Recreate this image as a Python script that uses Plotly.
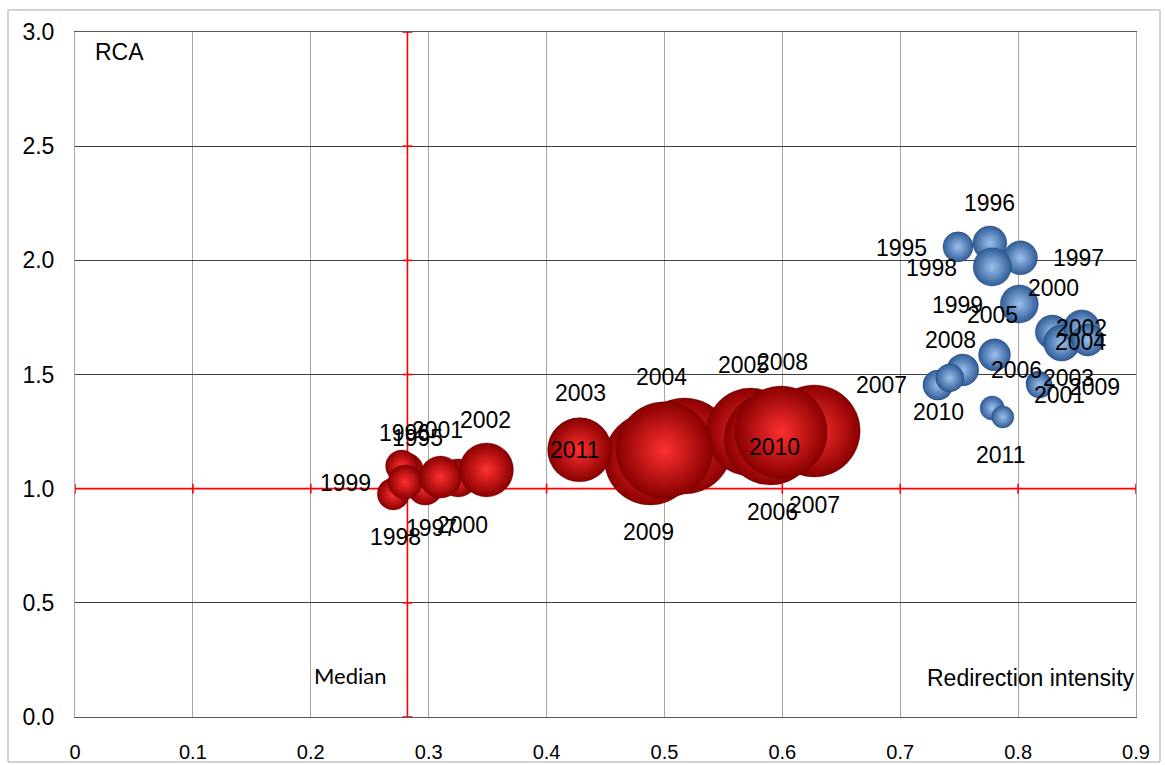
import plotly.graph_objects as go

# ---------------------------------------------------------------------------
# Data: redirection intensity (x), RCA (y) and trade size (bubble area)
# ---------------------------------------------------------------------------
years = list(range(1995, 2012))

red_x = [0.281, 0.277, 0.297, 0.270, 0.280, 0.325, 0.310, 0.349, 0.428,
         0.517, 0.573, 0.590, 0.627, 0.599, 0.488, 0.500, 0.428]
red_y = [1.082, 1.099, 1.007, 0.977, 1.029, 1.047, 1.051, 1.082, 1.174,
         1.187, 1.248, 1.218, 1.253, 1.248, 1.130, 1.170, 1.170]
red_size = [12.5, 11.1, 14.1, 11.1, 12.5, 15.7, 19.1, 31.6, 41.7,
            100.0, 84.0, 91.8, 91.8, 91.8, 91.8, 100.0, 44.4]

blue_x = [0.749, 0.776, 0.802, 0.778, 0.801, 0.829, 0.837, 0.854, 0.817,
          0.859, 0.780, 0.753, 0.732, 0.742, 0.818, 0.778, 0.787]
blue_y = [2.059, 2.076, 2.011, 1.971, 1.809, 1.686, 1.638, 1.704, 1.463,
          1.651, 1.586, 1.520, 1.454, 1.485, 1.454, 1.353, 1.314]
blue_size = [9.8, 12.5, 12.5, 15.7, 15.7, 12.5, 14.1, 14.1, 6.3,
             11.1, 11.1, 11.1, 9.8, 8.5, 7.3, 6.3, 5.3]

median_x = 0.282      # median redirection intensity
rca_threshold = 1.0   # RCA = 1 reference line

x_ticks = [0, 0.1, 0.2, 0.3, 0.4, 0.5, 0.6, 0.7, 0.8, 0.9]
x_tick_text = ["0", "0.1", "0.2", "0.3", "0.4", "0.5", "0.6", "0.7", "0.8", "0.9"]
y_ticks = [0, 0.5, 1.0, 1.5, 2.0, 2.5, 3.0]
y_tick_text = ["0.0", "0.5", "1.0", "1.5", "2.0", "2.5", "3.0"]

# Year-label placement, pixel offsets (right, down) from each bubble centre
red_label_shift = {
    1995: (11, -32), 1996: (3, -33), 1997: (6, 41), 1998: (2, 43),
    1999: (-60, 1), 2000: (4, 47), 2001: (-3, -47), 2002: (-1, -50),
    2003: (1, -56), 2004: (-23, -69), 2005: (-7, -67), 2006: (2, 73),
    2007: (0, 74), 2008: (1, -70), 2009: (-2, 73), 2010: (110, -3),
    2011: (-5, 0),
}
blue_label_shift = {
    1995: (-56, 1), 1996: (0, -40), 1997: (58, 0), 1998: (-61, 1),
    1999: (-62, 1), 2000: (1, -44), 2001: (-2, 52), 2002: (0, 0),
    2003: (30, -5), 2004: (-7, 2), 2005: (-2, -40), 2006: (54, 0),
    2007: (-56, 0), 2008: (1, -38), 2009: (55, 2), 2010: (-54, 4),
    2011: (-2, 38),
}

# ---------------------------------------------------------------------------
W, H = 1165, 765
ML, MR, MT, MB = 75, 29, 32, 48
PW, PH = W - ML - MR, H - MT - MB
MAX_DIAMETER = 96
SIZEREF = 2.0 * max(red_size + blue_size) / MAX_DIAMETER ** 2

FONT = "Liberation Sans, Arial, sans-serif"

fig = go.Figure()


def bubbles(xs, ys, sizes, edge, centre, line):
    return go.Scatter(
        x=xs, y=ys, mode="markers", hoverinfo="skip", showlegend=False,
        marker=dict(
            size=sizes, sizemode="area", sizeref=SIZEREF,
            color=edge, opacity=1,
            gradient=dict(type="radial", color=centre),
            line=dict(color=line, width=0.6),
        ),
    )


fig.add_trace(bubbles(red_x, red_y, red_size, "#8a0000", "#ff3030", "rgba(70,0,0,0.6)"))
fig.add_trace(bubbles(blue_x, blue_y, blue_size, "#2f5d98", "#9cc0ec", "rgba(20,40,80,0.6)"))

annotations = []
for xs, ys, shifts in ((red_x, red_y, red_label_shift), (blue_x, blue_y, blue_label_shift)):
    for yr, xv, yv in zip(years, xs, ys):
        dx, dy = shifts[yr]
        annotations.append(dict(
            x=xv, y=yv, xref="x", yref="y", text=str(yr), showarrow=False,
            xshift=dx, yshift=-dy, xanchor="center", yanchor="middle",
            font=dict(family=FONT, size=23, color="#000000"),
        ))


def px_x(p):
    return (p - ML) / PW


def px_y(p):
    return (H - MB - p) / PH


annotations += [
    dict(x=px_x(93), y=px_y(52), xref="paper", yref="paper", text="RCA",
         showarrow=False, xanchor="left", yanchor="middle",
         font=dict(family=FONT, size=23, color="#000000")),
    dict(x=px_x(312), y=px_y(675), xref="paper", yref="paper", text="Median",
         showarrow=False, xanchor="left", yanchor="middle",
         font=dict(family="Lato, Carlito, sans-serif", size=22, color="#000000")),
    dict(x=px_x(1031), y=px_y(678), xref="paper", yref="paper",
         text="Redirection intensity", showarrow=False, xanchor="center",
         yanchor="middle", font=dict(family=FONT, size=23, color="#000000")),
]

RED_LINE = dict(color="#ff0000", width=1.6)
shapes = [
    # outer chart frame
    dict(type="rect", xref="paper", yref="paper",
         x0=px_x(8), x1=px_x(1160), y0=px_y(762), y1=px_y(10),
         line=dict(color="#a6a6a6", width=1), layer="below"),
    # RCA = 1 line
    dict(type="line", xref="x", yref="y", x0=x_ticks[0], x1=x_ticks[-1],
         y0=rca_threshold, y1=rca_threshold, line=RED_LINE, layer="between"),
    # median line
    dict(type="line", xref="x", yref="y", x0=median_x, x1=median_x,
         y0=y_ticks[0], y1=y_ticks[-1], line=RED_LINE, layer="between"),
]
# cross ticks on the red reference lines
for xv in x_ticks:
    shapes.append(dict(type="line", xref="x", yref="y", ysizemode="pixel",
                       yanchor=rca_threshold, x0=xv, x1=xv, y0=-5, y1=5,
                       line=RED_LINE, layer="between"))
for yv in y_ticks:
    shapes.append(dict(type="line", xref="x", yref="y", xsizemode="pixel",
                       xanchor=median_x, y0=yv, y1=yv, x0=-5, x1=5,
                       line=RED_LINE, layer="between"))

fig.update_layout(
    width=W, height=H, autosize=False,
    margin=dict(l=ML, r=MR, t=MT, b=MB, pad=0),
    paper_bgcolor="#ffffff", plot_bgcolor="#ffffff",
    showlegend=False,
    annotations=annotations, shapes=shapes,
    xaxis=dict(
        range=[0, 0.9], tickvals=x_ticks, ticktext=x_tick_text,
        showgrid=True, gridcolor="#a6a6a6", gridwidth=1,
        zeroline=False, showline=True, mirror=True,
        linecolor="#595959", linewidth=1, ticks="",
        ticklabelstandoff=17, automargin=False,
        tickfont=dict(family=FONT, size=20, color="#000000"),
    ),
    yaxis=dict(
        range=[0, 3], tickvals=y_ticks, ticktext=y_tick_text,
        showgrid=True, gridcolor="#404040", gridwidth=1,
        zeroline=False, showline=True, mirror=True,
        linecolor="#a6a6a6", linewidth=1, ticks="",
        ticklabelstandoff=15, automargin=False,
        tickfont=dict(family=FONT, size=23, color="#000000"),
    ),
)

fig.write_html("out.html")
